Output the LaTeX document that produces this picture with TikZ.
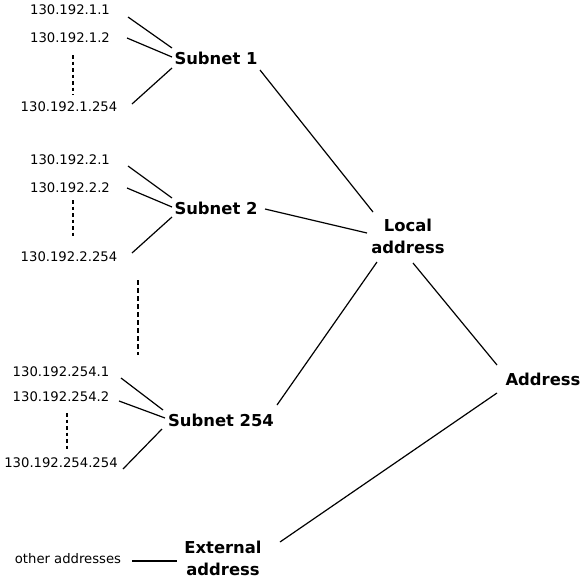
\documentclass[tikz,border=0pt]{standalone}
\usepackage{fontspec}
\setmainfont{DejaVu Sans}
\begin{document}
\begin{tikzpicture}[x=1pt,y=-1pt,
  leaf/.style={inner sep=0pt,font=\fontsize{13.2}{15}\selectfont},
  hub/.style={inner sep=0pt,align=center,font=\fontsize{16.4}{22}\selectfont\bfseries},
  conn/.style={line width=1.2pt},
  dots/.style={line width=1.2pt,dash pattern=on 3.5pt off 3pt},
  bigdots/.style={line width=2.4pt,dash pattern=on 4.5pt off 3.5pt}]
\useasboundingbox (0,0) rectangle (582,581);
% subnet 1
\node[leaf] (l11) at (70,10) {130.192.1.1};
\node[leaf] (l12) at (70,38) {130.192.1.2};
\node[leaf] (l1e) at (69,107) {130.192.1.254};
\node[hub] (s1) at (216,58) {Subnet 1};
% subnet 2
\node[leaf] (l21) at (70,160) {130.192.2.1};
\node[leaf] (l22) at (70,188) {130.192.2.2};
\node[leaf] (l2e) at (69,257) {130.192.2.254};
\node[hub] (s2) at (216,208) {Subnet 2};
% subnet 254
\node[leaf] (l31) at (61,371.5) {130.192.254.1};
\node[leaf] (l32) at (61,397) {130.192.254.2};
\node[leaf] (l3e) at (61,463) {130.192.254.254};
\node[hub] (s3) at (221,420) {Subnet 254};
% right side
\node[hub] (local) at (408,236) {Local\\address};
\node[hub] (addr) at (543,379) {Address};
\node[hub] (ext) at (223,558) {External\\address};
\node[leaf] (other) at (68,559) {other addresses};
% connectors subnet 1
\draw[conn] ([shift={(58,7)}]l11.center) -- ([shift={(-44,-10)}]s1.center);
\draw[conn] ([shift={(57,0)}]l12.center) -- ([shift={(-44,-1)}]s1.center);
\draw[conn] ([shift={(63,-3)}]l1e.center) -- ([shift={(-44,10)}]s1.center);
\draw[dots] ([shift={(3,17)}]l12.center) -- ([shift={(4,-12)}]l1e.center);
\draw[conn] ([shift={(44,12)}]s1.center) -- ([shift={(-35,-24)}]local.center);
% connectors subnet 2
\draw[conn] ([shift={(58,6)}]l21.center) -- ([shift={(-44,-10)}]s2.center);
\draw[conn] ([shift={(57,0)}]l22.center) -- ([shift={(-44,-1)}]s2.center);
\draw[conn] ([shift={(63,-4)}]l2e.center) -- ([shift={(-44,9)}]s2.center);
\draw[dots] ([shift={(3,12)}]l22.center) -- ([shift={(4,-18)}]l2e.center);
\draw[conn] ([shift={(49,1)}]s2.center) -- ([shift={(-41,-3)}]local.center);
% big dots between groups
\draw[bigdots] ([shift={(69,23)}]l2e.center) -- ([shift={(77,-16.5)}]l31.center);
% connectors subnet 254
\draw[conn] ([shift={(60,6.5)}]l31.center) -- ([shift={(-58,-10)}]s3.center);
\draw[conn] ([shift={(58,4)}]l32.center) -- ([shift={(-56,-2)}]s3.center);
\draw[conn] ([shift={(62,6)}]l3e.center) -- ([shift={(-59,9)}]s3.center);
\draw[dots] ([shift={(6,16)}]l32.center) -- ([shift={(6,-11)}]l3e.center);
\draw[conn] ([shift={(56,-15)}]s3.center) -- ([shift={(-31,26)}]local.center);
% right side connectors
\draw[conn] ([shift={(5,27)}]local.center) -- ([shift={(-46,-14)}]addr.center);
\draw[conn] ([shift={(-46,14)}]addr.center) -- ([shift={(57,-16)}]ext.center);
\draw[conn] ([shift={(64,2)}]other.center) -- ([shift={(-46,3)}]ext.center);
\end{tikzpicture}
\end{document}
